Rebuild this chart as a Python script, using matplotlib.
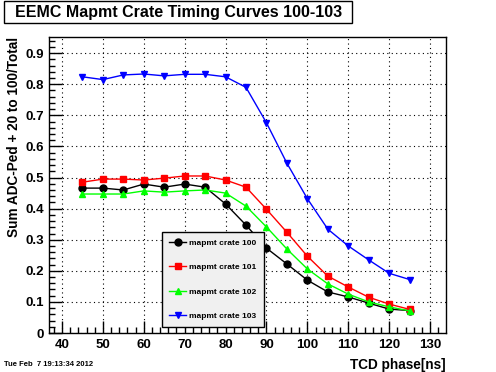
import numpy as np
import matplotlib.pyplot as plt
from matplotlib.ticker import MultipleLocator
from matplotlib.patches import Rectangle

plt.rcParams['font.family'] = ['Liberation Sans', 'DejaVu Sans']

# TCD phase settings (ns)
phase = [45, 50, 55, 60, 65, 70, 75, 80, 85, 90, 95, 100, 105, 110, 115, 120, 125]

# Sum ADC-Ped + 20 to 100 / Total for each crate
crate100 = [0.466, 0.466, 0.460, 0.479, 0.469, 0.479, 0.469, 0.415, 0.347, 0.273,
            0.222, 0.170, 0.132, 0.116, 0.096, 0.077, 0.072]
crate101 = [0.485, 0.495, 0.495, 0.492, 0.498, 0.505, 0.505, 0.492, 0.469, 0.398,
            0.324, 0.247, 0.183, 0.148, 0.115, 0.093, 0.076]
crate102 = [0.447, 0.447, 0.447, 0.457, 0.453, 0.457, 0.460, 0.450, 0.408, 0.341,
            0.270, 0.206, 0.158, 0.125, 0.100, 0.084, 0.071]
crate103 = [0.824, 0.815, 0.830, 0.833, 0.827, 0.832, 0.832, 0.824, 0.790, 0.676,
            0.546, 0.432, 0.334, 0.280, 0.235, 0.192, 0.172]

labels = ["mapmt crate 100", "mapmt crate 101", "mapmt crate 102", "mapmt crate 103"]

W, H = 496, 372
fig = plt.figure(figsize=(W / 100, H / 100), dpi=100)
ax = fig.add_axes([49.3 / W, 1 - 333 / H, (446 - 49.3) / W, (333 - 37) / H])

ax.plot(phase, crate100, color="black", marker="o", ms=5, lw=1, label=labels[0])
ax.plot(phase, crate101, color="red", marker="s", ms=4.5, lw=1, label=labels[1])
ax.plot(phase, crate102, color="#00ff00", marker="^", ms=3.8, lw=1, label=labels[2])
ax.plot(phase, crate103, color="blue", marker="v", ms=4.2, lw=1, label=labels[3])

ax.set_xlim(36.9, 133.9)
ax.set_ylim(0, 0.952)
ax.xaxis.set_major_locator(MultipleLocator(10))
ax.xaxis.set_minor_locator(MultipleLocator(2))
ax.yaxis.set_minor_locator(MultipleLocator(0.02))
ax.set_yticks(np.arange(0, 0.91, 0.1))
ax.set_yticklabels(["0"] + ["%.1f" % v for v in np.arange(0.1, 0.91, 0.1)])
ax.tick_params(which="both", direction="in", top=False, right=False,
               labelsize=9.5, width=1)
ax.tick_params(which="major", length=9, pad=4)
ax.tick_params(which="minor", length=4.5)
for t in ax.get_xticklabels() + ax.get_yticklabels():
    t.set_fontweight("bold")
ax.grid(True, which="major", color="black", linestyle=(0, (1, 3)), lw=0.8)
for s in ax.spines.values():
    s.set_linewidth(1)

# axis titles placed like ROOT: right / top aligned
fig.text(446 / W, 1 - 365 / H, "TCD phase[ns]", fontsize=9.8, fontweight="bold",
         ha="right", va="center")
fig.text(14 / W, 1 - 37 / H, "Sum ADC-Ped + 20 to 100/Total", fontsize=9.8,
         fontweight="bold", rotation=90, ha="center", va="top")

leg = fig.legend(loc="upper left", bbox_to_anchor=(161.7 / W, 1 - 232 / H),
                 fontsize=6, fancybox=False, framealpha=1,
                 facecolor="#f0f0f0", edgecolor="black", labelspacing=1.95,
                 handlelength=2.0, handletextpad=0.4, borderpad=0.9,
                 borderaxespad=0)
leg.get_frame().set_linewidth(1)
for t in leg.get_texts():
    t.set_fontweight("bold")

# title box
fig.patches.append(Rectangle((4 / W, 1 - 23 / H), 348 / W, 22 / H,
                             transform=fig.transFigure, facecolor="white",
                             edgecolor="black", lw=1))
fig.text(15 / W, 1 - 12 / H, "EEMC Mapmt Crate Timing Curves 100-103",
         fontsize=11.5, fontweight="bold", va="center", ha="left")

fig.text(4 / W, 1 - 365 / H, "Tue Feb  7 19:13:34 2012", fontsize=5.5,
         fontweight="bold", va="center", ha="left")

plt.savefig("out.png", dpi=100)
